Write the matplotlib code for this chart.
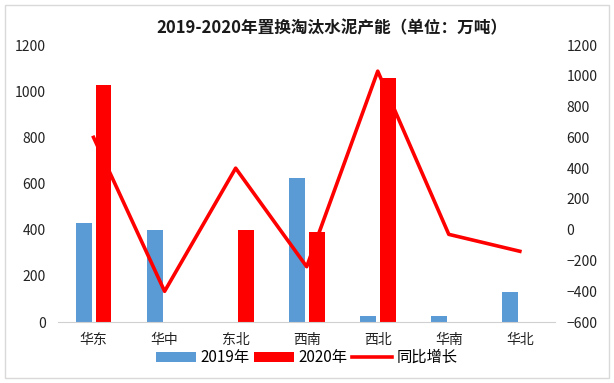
import matplotlib
matplotlib.use("Agg")
import matplotlib.pyplot as plt
import numpy as np
from matplotlib.patches import Rectangle

plt.rcParams['font.family'] = ['Noto Sans CJK SC', 'DejaVu Sans']

categories = ['华东', '华中', '东北', '西南', '西北', '华南', '华北']
v2019 = [428, 398, 0, 625, 25, 25, 130]
v2020 = [1025, 0, 400, 390, 1055, 0, 0]
growth = [600, -400, 400, -240, 1030, -30, -140]
left_ticks = [0, 200, 400, 600, 800, 1000, 1200]
right_ticks = [-600, -400, -200, 0, 200, 400, 600, 800, 1000, 1200]

fig = plt.figure(figsize=(6.14, 3.83), dpi=100)
ax = fig.add_axes([0.0945, 0.159, 0.81, 0.7235])
ax2 = ax.twinx()

x = np.arange(len(categories))
w = 0.225
off = 0.14
blue = '#5B9BD5'
red = '#FF0000'
ax.bar(x - off, v2019, w, color=blue, label='2019年', zorder=2)
ax.bar(x + off, v2020, w, color=red, label='2020年', zorder=2)
ax2.plot(x, growth, color=red, lw=2.6, label='同比增长', zorder=3)

ax.set_xlim(-0.5, len(categories) - 0.5)
ax.set_ylim(0, 1200)
ax2.set_ylim(-600, 1200)
ax.set_yticks(left_ticks)
ax2.set_yticks(right_ticks)
ax.set_xticks(x)
ax.set_xticklabels(categories, fontsize=11)

for a in (ax, ax2):
    for s in a.spines.values():
        s.set_visible(False)
    a.tick_params(length=0, labelsize=10, colors='#222222')
ax.spines['bottom'].set_visible(True)
ax.spines['bottom'].set_color('#D0D0D0')
ax.tick_params(axis='y', pad=9)
ax2.tick_params(axis='y', pad=8)
ax.tick_params(axis='x', pad=8)

fig.text(0.54, 0.927, '2019-2020年置换淘汰水泥产能（单位：万吨）', ha='center', va='center',
         fontsize=12, fontweight='bold', color='#1a1a1a')

h1, l1 = ax.get_legend_handles_labels()
h2, l2 = ax2.get_legend_handles_labels()
fig.legend(h1 + h2, l1 + l2, loc='center', bbox_to_anchor=(0.5, 0.066), ncol=3,
           frameon=False, fontsize=11, handlelength=2.6, handleheight=0.6,
           columnspacing=0.3, handletextpad=0.3, borderaxespad=0)

fig.patches.append(Rectangle((0.008, 0.012), 0.984, 0.975, transform=fig.transFigure,
                             fill=False, edgecolor='#D9D9D9', lw=1))

fig.savefig('out.png', dpi=100)
